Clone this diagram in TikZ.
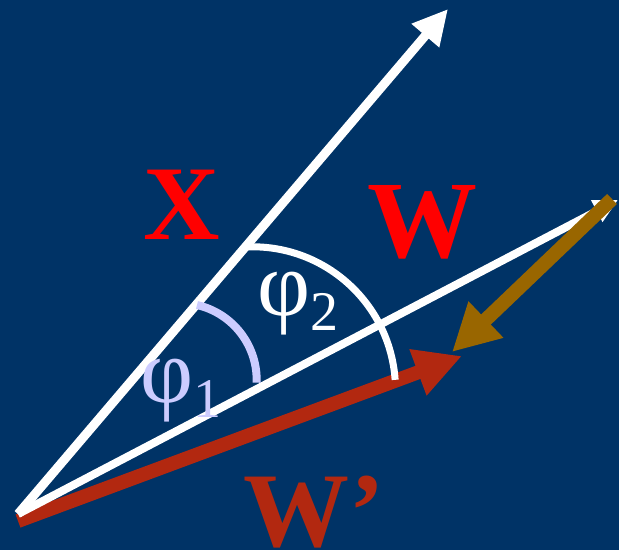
\documentclass[tikz,border=0pt]{standalone}
\usepackage{fontspec}
\setmainfont{Liberation Serif}
\usetikzlibrary{arrows.meta}
\definecolor{bgblue}{RGB}{0,51,102}
\definecolor{wdash}{RGB}{178,40,16}
\definecolor{delta}{RGB}{153,102,0}
\definecolor{lilac}{RGB}{204,204,255}
\begin{document}
\begin{tikzpicture}[x=1pt,y=1pt]
	 \tikzstyle{vec}=[draw,line width=9pt,white]
	 \tikzstyle{angle}=[line width=7pt]
	 \tikzstyle{label}=[inner sep=0pt,anchor=base]
	 \fill[bgblue] (0,0) rectangle (619,550);
	 \useasboundingbox (0,0) rectangle (619,550);
	 \coordinate (o) at (18,36);
	 \coordinate (o2) at (18,29);
	 \coordinate (xtip) at (448,541);
	 \coordinate (wtip) at (618,350);
	 \coordinate (wdtip) at (462,194);
	 \coordinate (dstart) at (612,351);
	 \coordinate (dtip) at (452,198);
	 \draw[vec,wdash,line width=14pt,-{Triangle[length=47pt,width=46pt]}] (o2) -- (wdtip);
	 \draw[vec,-{Triangle[length=35pt,width=34pt]}] (o) -- (xtip);
	 \draw[vec,line width=8pt,-{Triangle[length=24pt,width=23pt]}] (o) -- (wtip);
	 \draw[angle,white] (245,303) arc[start angle=93,end angle=4,radius=143];
	 \draw[angle,lilac,line width=8pt] (197,245) arc[start angle=77,end angle=-2,radius=77];
	 \draw[vec,delta,line width=14pt,-{Triangle[length=47pt,width=47pt]}] (dstart) -- (dtip);
	 \node[label,red] (xl) at (182,310) {\fontsize{106}{106}\selectfont\bfseries X};
	 \node[label,red] (wl) at (422,293) {\fontsize{110}{110}\selectfont\bfseries W};
	 \node[label,wdash,anchor=base west] (wdl) at (243,4) {\fontsize{106}{106}\selectfont\bfseries W’};
	 \node[label,white,anchor=base west] (phi2) at (257,235) {\fontsize{92}{92}\selectfont φ\raisebox{-15pt}{\fontsize{56}{56}\selectfont 2}};
	 \node[label,lilac,anchor=base west] (phi1) at (140,148) {\fontsize{92}{92}\selectfont φ\raisebox{-15pt}{\fontsize{56}{56}\selectfont 1}};
\end{tikzpicture}
\end{document}
